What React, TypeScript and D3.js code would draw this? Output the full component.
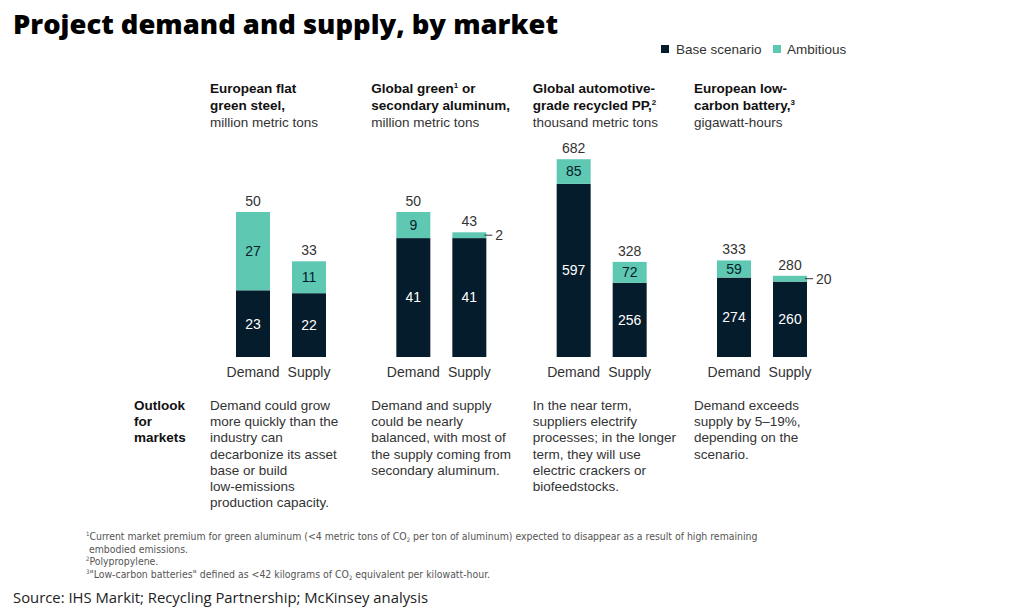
import React from "react";
import * as d3 from "d3";

// ---- Data ----
const panelKeys = ["steel", "aluminum", "pp", "battery"];
const headerLine1 = ["European flat", "Global green", "Global automotive-", "European low-"];
const headerSup1 = ["", "1", "", ""];
const headerLine1Tail = ["", " or", "", ""];
const headerLine2 = ["green steel,", "secondary aluminum,", "grade recycled PP,", "carbon battery,"];
const headerSup2 = ["", "", "2", "3"];
const unitLabels = ["million metric tons", "million metric tons", "thousand metric tons", "gigawatt-hours"];
const barCategories = ["Demand", "Supply"];
const baseDemand = [23, 41, 597, 274];
const ambitiousDemand = [27, 9, 85, 59];
const baseSupply = [22, 41, 256, 260];
const ambitiousSupply = [11, 2, 72, 20];
const totalDemand = [50, 50, 682, 333];
const totalSupply = [33, 43, 328, 280];
const scaleMax = [70, 70, 700, 700];
const outlookTexts = [
  ["Demand could grow", "more quickly than the", "industry can", "decarbonize its asset", "base or build", "low-emissions", "production capacity."],
  ["Demand and supply", "could be nearly", "balanced, with most of", "the supply coming from", "secondary aluminum."],
  ["In the near term,", "suppliers electrify", "processes; in the longer", "term, they will use", "electric crackers or", "biofeedstocks."],
  ["Demand exceeds", "supply by 5\u201319%,", "depending on the", "scenario."],
];
const legendLabels = ["Base scenario", "Ambitious"];

const DARK = "#051c2c";
const TEAL = "#5fc8b3";
const BODY = "Liberation Sans, Arial, Helvetica, sans-serif";
const NARROW = "Liberation Sans Narrow, DejaVu Sans Condensed, sans-serif";

export default function App() {
  const panelX = d3.scalePoint<string>().domain(panelKeys).range([210, 694]);
  const barGroupX = d3.scalePoint<string>().domain(panelKeys).range([236, 717]);
  const bottom = 357;

  return (
    <svg width={1024} height={614} style={{ position: "absolute", left: 0, top: 0, background: "#fff" }}>
      {/* Title */}
      <text x={13} y={34} fontFamily="Open Sans, sans-serif" fontWeight={800} fontSize={26} fill="#000"
        textLength={545} lengthAdjust="spacingAndGlyphs">
        Project demand and supply, by market
      </text>

      {/* Legend */}
      <g fontFamily={BODY} fontSize={13.5} fill="#333">
        <rect x={661} y={45} width={8} height={8} fill={DARK} />
        <text x={676} y={54}>{legendLabels[0]}</text>
        <rect x={773} y={45} width={8} height={8} fill={TEAL} />
        <text x={787} y={54}>{legendLabels[1]}</text>
      </g>

      {panelKeys.map((k, i) => {
        const px = panelX(k) as number;
        const bx0 = barGroupX(k) as number;
        const y = d3.scaleLinear().domain([0, scaleMax[i]]).range([bottom, bottom - 203]);
        const x = d3.scaleBand<string>().domain(barCategories).range([bx0, bx0 + 90]).paddingInner(0.393).paddingOuter(0);
        const bars = [
          { cat: "Demand", base: baseDemand[i], amb: ambitiousDemand[i], total: totalDemand[i] },
          { cat: "Supply", base: baseSupply[i], amb: ambitiousSupply[i], total: totalSupply[i] },
        ];
        return (
          <g key={k}>
            {/* Header */}
            <text x={px} y={93} fontFamily={BODY} fontWeight={700} fontSize={13.5} fill="#111">
              {headerLine1[i]}
              {headerSup1[i] && <tspan fontSize={8} dy={-5}>{headerSup1[i]}</tspan>}
              {headerLine1Tail[i] && <tspan dy={headerSup1[i] ? 5 : 0}>{headerLine1Tail[i]}</tspan>}
            </text>
            <text x={px} y={110} fontFamily={BODY} fontWeight={700} fontSize={13.5} fill="#111">
              {headerLine2[i]}
              {headerSup2[i] && <tspan fontSize={8} dy={-5}>{headerSup2[i]}</tspan>}
            </text>
            <text x={px} y={127} fontFamily={BODY} fontSize={13.5} fill="#333">{unitLabels[i]}</text>

            {bars.map((b) => {
              const bx = x(b.cat) as number;
              const bw = x.bandwidth();
              const yBase = y(b.base);
              const yTop = y(b.base + b.amb);
              const ambH = yBase - yTop;
              const cx = bx + bw / 2;
              return (
                <g key={b.cat} fontFamily={BODY} fontSize={14}>
                  <rect x={bx} y={yBase} width={bw} height={bottom - yBase} fill={DARK} />
                  <rect x={bx} y={yTop} width={bw} height={ambH} fill={TEAL} />
                  <text x={cx} y={(yBase + bottom) / 2} dy="0.35em" textAnchor="middle" fill="#fff">{b.base}</text>
                  {ambH > 14 ? (
                    <text x={cx} y={(yTop + yBase) / 2} dy="0.35em" textAnchor="middle" fill={DARK}>{b.amb}</text>
                  ) : (
                    <g>
                      <line x1={bx + bw - 2} x2={bx + bw + 6} y1={(yTop + yBase) / 2} y2={(yTop + yBase) / 2} stroke="#333" strokeWidth={1} />
                      <text x={bx + bw + 9} y={(yTop + yBase) / 2} dy="0.35em" fill="#333">{b.amb}</text>
                    </g>
                  )}
                  <text x={cx} y={yTop - 6} textAnchor="middle" fill="#333">{b.total}</text>
                  <text x={cx} y={377} textAnchor="middle" fill="#333">{b.cat}</text>
                </g>
              );
            })}

            {/* Outlook */}
            <text fontFamily={BODY} fontSize={13.5} fill="#333">
              {outlookTexts[i].map((line, j) => (
                <tspan key={j} x={px} y={410 + j * 16.2}>{line}</tspan>
              ))}
            </text>
          </g>
        );
      })}

      {/* Outlook label */}
      <text fontFamily={BODY} fontWeight={700} fontSize={13.5} fill="#111">
        <tspan x={134} y={410}>Outlook</tspan>
        <tspan x={134} y={426.2}>for</tspan>
        <tspan x={134} y={442.4}>markets</tspan>
      </text>

      {/* Footnotes */}
      <g fontFamily={NARROW} fontSize={10.4} fill="#555">
        <text x={86} y={540}>
          <tspan fontSize={6} dy={-4}>1</tspan>
          <tspan dy={4}>Current market premium for green aluminum (&lt;4 metric tons of CO</tspan>
          <tspan fontSize={6} dy={2}>2</tspan>
          <tspan dy={-2}> per ton of aluminum) expected to disappear as a result of high remaining</tspan>
        </text>
        <text x={89} y={553}>embodied emissions.</text>
        <text x={86} y={565}>
          <tspan fontSize={6} dy={-4}>2</tspan>
          <tspan dy={4}>Polypropylene.</tspan>
        </text>
        <text x={86} y={578}>
          <tspan fontSize={6} dy={-4}>3</tspan>
          <tspan dy={4}>"Low-carbon batteries" defined as &lt;42 kilograms of CO</tspan>
          <tspan fontSize={6} dy={2}>2</tspan>
          <tspan dy={-2}> equivalent per kilowatt-hour.</tspan>
        </text>
      </g>

      {/* Source */}
      <text x={13} y={603} fontFamily="Open Sans, sans-serif" fontSize={14} fill="#222" textLength={415} lengthAdjust="spacingAndGlyphs">
        Source: IHS Markit; Recycling Partnership; McKinsey analysis
      </text>
    </svg>
  );
}
